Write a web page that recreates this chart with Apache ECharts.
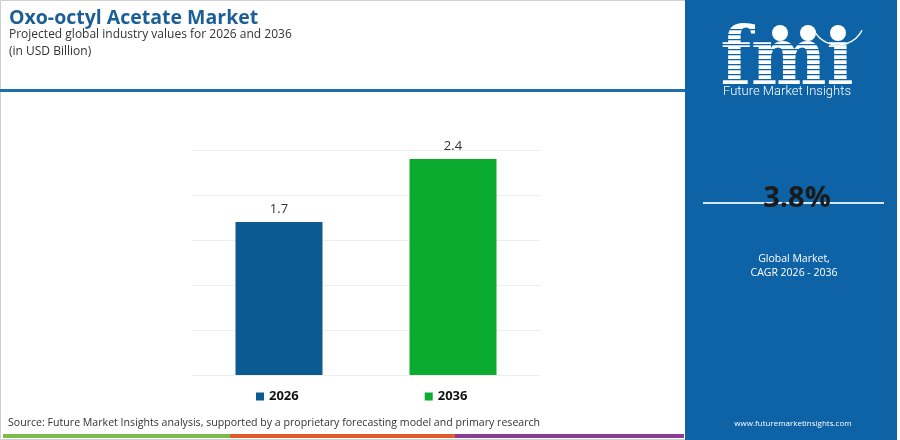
<!DOCTYPE html>
<html>
<head>
<meta charset="utf-8">
<script src="https://cdn.jsdelivr.net/npm/echarts@6/dist/echarts.min.js"></script>
<style>
html,body{margin:0;padding:0;background:#fff;}
#chart{width:900px;height:440px;}
</style>
</head>
<body>
<div id="chart"></div>
<script>
const categories = ['2026', '2036'];
const seriesNames = ['2026', '2036'];
const values2026 = [1.7, '-'];
const values2036 = ['-', 2.4];
const yTicks = [0, 0.5, 1, 1.5, 2, 2.5];
const cagrText = '3.8%';

const chart = echarts.init(document.getElementById('chart'));
const FONT = 'Open Sans';
const panelColor = '#0e63a6';

const option = {
  backgroundColor: '#ffffff',
  animation: false,
  title: [
    {
      text: 'Oxo-octyl Acetate Market',
      left: 9, top: 8, padding: 0,
      textStyle: { fontFamily: FONT, fontWeight: 'bold', fontSize: 19.5, color: '#1c5f96' }
    },
    {
      text: 'Projected global industry values for 2026 and 2036\n(in USD Billion)',
      left: 9, top: 26, padding: 0,
      textStyle: { fontFamily: FONT, fontWeight: 'normal', fontSize: 12, color: '#333', lineHeight: 17 }
    }
  ],
  legend: {
    data: seriesNames,
    left: 256, top: 390, padding: 0,
    itemWidth: 8, itemHeight: 8, itemGap: 126,
    icon: 'rect',
    textStyle: { fontFamily: FONT, fontWeight: 'bold', fontSize: 13, color: '#111' }
  },
  grid: { left: 192, right: 360, top: 150, bottom: 65, containLabel: false },
  xAxis: {
    type: 'category',
    data: categories,
    axisLine: { show: false },
    axisTick: { show: false },
    axisLabel: { show: false }
  },
  yAxis: {
    type: 'value',
    min: yTicks[0], max: yTicks[yTicks.length - 1], interval: 0.5,
    axisLabel: { show: false },
    axisLine: { show: false },
    axisTick: { show: false },
    splitLine: { lineStyle: { color: '#eeeeee', width: 1 } }
  },
  series: [
    {
      name: seriesNames[0], type: 'bar', stack: 'one', data: values2026, barWidth: '50%',
      itemStyle: { color: '#0b5a90' },
      label: { show: true, position: 'top', distance: 6, fontFamily: FONT, fontSize: 13, color: '#333' }
    },
    {
      name: seriesNames[1], type: 'bar', stack: 'one', data: values2036, barWidth: '50%',
      itemStyle: { color: '#0aab2f' },
      label: { show: true, position: 'top', distance: 6, fontFamily: FONT, fontSize: 13, color: '#333' }
    }
  ],
  graphic: [
    // left panel border
    { type: 'rect', shape: { x: 0.5, y: 0.5, width: 685, height: 439 }, style: { fill: 'none', stroke: '#d0d0d0', lineWidth: 1 }, z: 0 },
    // blue separator
    { type: 'rect', shape: { x: 0, y: 89, width: 686, height: 3 }, style: { fill: '#1f6fae' }, z: 1 },
    // right panel
    { type: 'rect', shape: { x: 685, y: 0, width: 212, height: 440 }, style: { fill: panelColor }, z: 1 },
    // logo
    { type: 'text', x: 787, y: 103, scaleY: 1.3, scaleX: 1.15, originX: 0, originY: 0,
      style: { text: 'fmı', fontFamily: 'DejaVu Serif', fontWeight: 'bold', fontSize: 62, fill: '#fff', align: 'center', verticalAlign: 'bottom' }, z: 2 },
    { type: 'group', z: 3, children: [29,34,39,44,49,54,59,64,69,74,79].map(y => ({ type: 'rect', shape: { x: 715, y: y, width: 150, height: 1.2 }, style: { fill: panelColor }, z: 3 })) },
    { type: 'circle', shape: { cx: 780, cy: 33, r: 8 }, style: { fill: '#fff' }, z: 4 },
    { type: 'circle', shape: { cx: 808, cy: 33, r: 8 }, style: { fill: '#fff' }, z: 4 },
    { type: 'circle', shape: { cx: 838, cy: 33, r: 8 }, style: { fill: '#fff' }, z: 4 },
    { type: 'arc', shape: { cx: 838, cy: 18, r: 27, startAngle: Math.PI * 0.15, endAngle: Math.PI * 0.85 }, style: { stroke: '#fff', lineWidth: 1.5, fill: 'none' }, z: 4 },
    { type: 'text', x: 787, y: 92, style: { text: 'Future Market Insights', fontFamily: 'Roboto', fontWeight: 300, fontSize: 13, fill: '#fff', align: 'center', verticalAlign: 'middle' }, z: 4 },
    // CAGR
    { type: 'line', shape: { x1: 703, y1: 203, x2: 884, y2: 203 }, style: { stroke: '#d6e6f4', lineWidth: 2 }, z: 2 },
    { type: 'text', x: 797, y: 199, style: { text: cagrText, fontFamily: FONT, fontWeight: 'bold', fontSize: 29, fill: '#1a1a1a', align: 'center', verticalAlign: 'middle' }, z: 4 },
    { type: 'text', x: 794, y: 266, style: { text: 'Global Market,\nCAGR 2026 - 2036', fontFamily: FONT, fontSize: 10.5, lineHeight: 14, fill: '#fff', align: 'center', verticalAlign: 'middle' }, z: 4 },
    { type: 'text', x: 793, y: 424, style: { text: 'www.futuremarketinsights.com', fontFamily: FONT, fontSize: 8, fill: '#fff', align: 'center', verticalAlign: 'middle' }, z: 4 },
    // source
    { type: 'text', x: 8, y: 423, style: { text: 'Source: Future Market Insights analysis, supported by a proprietary forecasting model and primary research', fontFamily: FONT, fontSize: 10.6, fill: '#333', align: 'left', verticalAlign: 'middle' }, z: 4 },
    // bottom strip
    { type: 'rect', shape: { x: 3, y: 434, width: 227, height: 4 }, style: { fill: '#7cbb4b' }, z: 4 },
    { type: 'rect', shape: { x: 230, y: 434, width: 225, height: 4 }, style: { fill: '#e15b2b' }, z: 4 },
    { type: 'rect', shape: { x: 455, y: 434, width: 229, height: 4 }, style: { fill: '#8c3b96' }, z: 4 }
  ]
};
chart.setOption(option);
</script>
</body>
</html>
